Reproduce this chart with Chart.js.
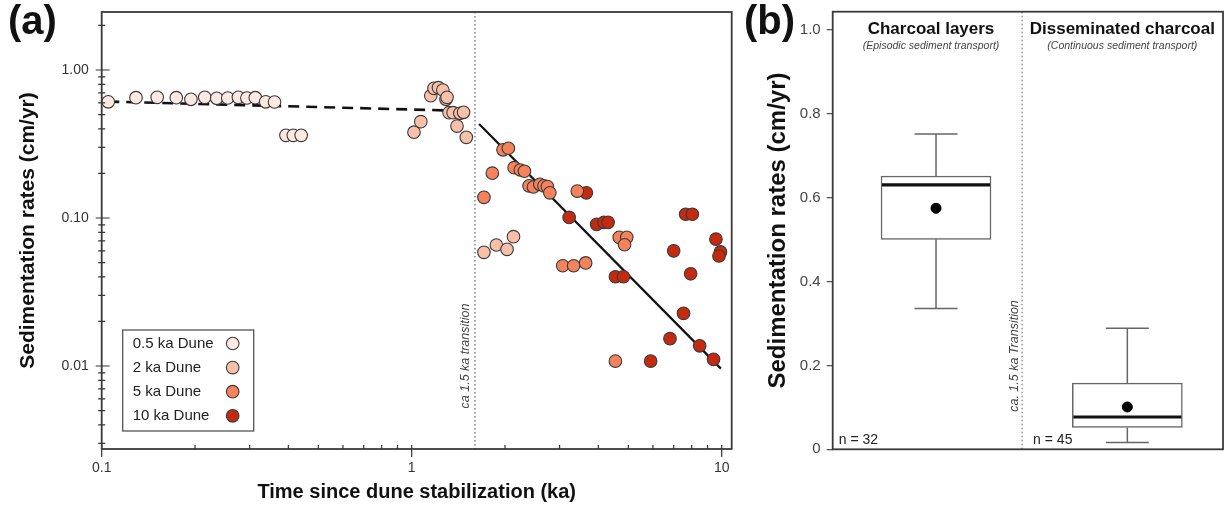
<!DOCTYPE html>
<html>
<head>
<meta charset="utf-8">
<title>Sedimentation rates</title>
<script src="https://cdn.jsdelivr.net/npm/chart.js@4.4.1/dist/chart.umd.min.js"></script>
<style>
  body { margin: 0; background: #fff; }
  #wrap { position: relative; width: 1229px; height: 506px; }
  #chartA { position: absolute; left: 0; top: 0; }
  #chartB { position: absolute; left: 740px; top: 0; }
</style>
</head>
<body>
<div id="wrap">
  <canvas id="chartA" width="740" height="506"></canvas>
  <canvas id="chartB" width="489" height="506"></canvas>
</div>
<script>
// ---------------------------------- data panel (a) ----------------------------------//
const duneLabels = ['0.5 ka Dune', '2 ka Dune', '5 ka Dune', '10 ka Dune'];

const dune05X = [0.105, 0.129, 0.151, 0.174, 0.194, 0.215, 0.235, 0.255, 0.276, 0.294, 0.313, 0.338, 0.361, 0.393, 0.415, 0.44];
const dune05Y = [0.61, 0.65, 0.654, 0.65, 0.634, 0.654, 0.644, 0.647, 0.654, 0.647, 0.65, 0.61, 0.608, 0.362, 0.362, 0.362];

const dune2X = [1.017, 1.07, 1.152, 1.18, 1.22, 1.26, 1.29, 1.30, 1.32, 1.36, 1.43, 1.47, 1.40, 1.50, 1.71, 1.875, 2.03, 2.13];
const dune2Y = [0.38, 0.448, 0.67, 0.752, 0.76, 0.733, 0.634, 0.654, 0.515, 0.515, 0.51, 0.518, 0.418, 0.351, 0.0586, 0.0657, 0.0614, 0.0748];

const dune5X = [1.97, 2.05, 1.82, 1.71, 2.14, 2.24, 2.31, 2.39, 2.47, 2.59, 2.67, 2.74, 2.79, 3.42, 4.67, 4.94, 4.86, 3.07, 3.33, 3.64, 4.54];
const dune5Y = [0.289, 0.296, 0.201, 0.138, 0.219, 0.211, 0.207, 0.165, 0.162, 0.169, 0.165, 0.163, 0.148, 0.152, 0.074, 0.074, 0.066, 0.0476, 0.0476, 0.0497, 0.0108];

const dune10X = [3.66, 3.22, 3.95, 4.17, 4.30, 7.65, 8.04, 9.58, 4.54, 4.82, 7.0, 7.94, 7.53, 6.81, 8.49, 9.41, 5.90, 9.91, 9.8];
const dune10Y = [0.148, 0.101, 0.0906, 0.0935, 0.0935, 0.106, 0.106, 0.072, 0.0401, 0.0401, 0.060, 0.042, 0.0227, 0.0153, 0.0137, 0.0111, 0.0108, 0.059, 0.0554];

// trend lines
const youngFitX = [0.105, 1.45];
const youngFitY = [0.612, 0.53];
const oldFitX = [1.65, 9.94];
const oldFitY = [0.432, 0.0096];

const transitionA = 1.6;

const xMajor = [0.1, 1, 10];
const xTickLabels = ['0.1', '1', '10'];
const yMajor = [0.01, 0.1, 1];
const yTickLabels = ['0.01', '0.10', '1.00'];

// ---------------------------------- data panel (b) ----------------------------------//
const groups = ['Charcoal layers', 'Disseminated charcoal'];
const groupNotes = ['(Episodic sediment transport)', '(Continuous sediment transport)'];
const groupN = ['n = 32', 'n = 45'];
const boxPos = [1, 2];
const whiskerLow = [0.336, 0.016];
const q1 = [0.501, 0.052];
const median = [0.631, 0.077];
const q3 = [0.652, 0.158];
const whiskerHigh = [0.752, 0.289];
const mean = [0.575, 0.101];
const transitionB = 1.45;
const yTicksB = [0, 0.2, 0.4, 0.6, 0.8, 1.0];
const yTickLabelsB = ['0', '0.2', '0.4', '0.6', '0.8', '1.0'];

//---------------------------------------------------------------------------------------//

const FONT = '"Liberation Sans", Arial, Helvetica, sans-serif';
Chart.defaults.font.family = FONT;
Chart.defaults.color = '#333';

function pts(xs, ys) {
    return xs.map((x, i) => ({ x: x, y: ys[i] }));
}

function logTicks(min, max) {
    const ticks = [];
    for (let e = Math.floor(Math.log10(min)); e <= Math.ceil(Math.log10(max)); e++) {
        for (let m = 1; m <= 9; m++) {
            const v = parseFloat((m * Math.pow(10, e)).toPrecision(6));
            if (v >= min && v <= max) ticks.push({ value: v, major: m === 1 });
        }
    }
    return ticks;
}

function dotDataset(label, xs, ys, color) {
    return {
        label: label,
        data: pts(xs, ys),
        backgroundColor: color,
        borderColor: '#3a3a3a',
        borderWidth: 1.1,
        pointRadius: 6.3,
        inLegend: true
    };
}

// no extra room for the half tick labels at the ends of the axes
function fixAxis(size) {
    return (axis) => {
        if (axis.isHorizontal()) axis.height = size; else axis.width = size;
        axis.paddingTop = 0;
        axis.paddingBottom = 0;
        axis.paddingLeft = 0;
        axis.paddingRight = 0;
    };
}

// frame around the plot area
const frame = {
    id: 'frame',
    afterDraw(chart) {
        const ctx = chart.ctx, a = chart.chartArea;
        ctx.save();
        ctx.strokeStyle = '#3a3a3a';
        ctx.lineWidth = 1.8;
        ctx.strokeRect(a.left, a.top, a.right - a.left, a.bottom - a.top);
        ctx.restore();
    }
};

// tick marks of the log axes (minor ones point inside)
const logTickMarks = {
    id: 'logTickMarks',
    afterDraw(chart) {
        const ctx = chart.ctx, a = chart.chartArea;
        const xs = chart.scales.x, ys = chart.scales.y;
        ctx.save();
        ctx.strokeStyle = '#333';
        ctx.lineWidth = 1.2;
        ctx.beginPath();
        xs.ticks.forEach(t => {
            const px = xs.getPixelForValue(t.value);
            ctx.moveTo(px, a.bottom - 4);
            ctx.lineTo(px, a.bottom + (t.major ? 8 : 0));
        });
        ys.ticks.forEach(t => {
            const py = ys.getPixelForValue(t.value);
            ctx.moveTo(a.left - (t.major ? 6 : 3.5), py);
            ctx.lineTo(a.left + (t.major ? 8 : 3.5), py);
        });
        ctx.stroke();
        ctx.restore();
    }
};

// dotted transition line, legend box and panel letter
const panelA = {
    id: 'panelA',
    beforeDatasetsDraw(chart) {
        const ctx = chart.ctx, a = chart.chartArea;
        const px = chart.scales.x.getPixelForValue(transitionA);
        ctx.save();
        ctx.strokeStyle = '#666';
        ctx.lineWidth = 1.2;
        ctx.setLineDash([1.5, 2.5]);
        ctx.beginPath();
        ctx.moveTo(px, a.top);
        ctx.lineTo(px, a.bottom);
        ctx.stroke();
        ctx.setLineDash([]);
        ctx.translate(px - 9, 356);
        ctx.rotate(-Math.PI / 2);
        ctx.font = 'italic 12.5px ' + FONT;
        ctx.fillStyle = '#444';
        ctx.textAlign = 'center';
        ctx.textBaseline = 'middle';
        ctx.fillText('ca 1.5 ka transition', 0, 0);
        ctx.restore();
    },
    afterDraw(chart) {
        const ctx = chart.ctx, a = chart.chartArea;
        const left = a.left + 21, top = a.bottom - 119, w = 131, h = 101;
        ctx.save();
        ctx.fillStyle = '#fff';
        ctx.fillRect(left, top, w, h);
        ctx.strokeStyle = '#555';
        ctx.lineWidth = 1.3;
        ctx.strokeRect(left, top, w, h);
        ctx.font = '15px ' + FONT;
        ctx.textBaseline = 'middle';
        chart.data.datasets.filter(d => d.inLegend).forEach((d, i) => {
            const y = top + 13.5 + i * 24.1;
            ctx.fillStyle = '#222';
            ctx.fillText(d.label, left + 10, y);
            ctx.beginPath();
            ctx.arc(left + 110, y, 6.3, 0, Math.PI * 2);
            ctx.fillStyle = d.backgroundColor;
            ctx.fill();
            ctx.strokeStyle = '#3a3a3a';
            ctx.lineWidth = 1.1;
            ctx.stroke();
        });
        ctx.fillStyle = '#111';
        ctx.font = 'bold 40px ' + FONT;
        ctx.textAlign = 'left';
        ctx.fillText('(a)', 8, 23);
        ctx.restore();
    }
};

const chartA = new Chart(document.getElementById('chartA'), {
    type: 'scatter',
    data: {
        datasets: [
            dotDataset(duneLabels[0], dune05X, dune05Y, '#fde9e1'),
            dotDataset(duneLabels[1], dune2X, dune2Y, '#f8c0a9'),
            dotDataset(duneLabels[2], dune5X, dune5Y, '#f4835b'),
            dotDataset(duneLabels[3], dune10X, dune10Y, '#c32a10'),
            {
                label: 'fit < 1.5 ka',
                data: pts(youngFitX, youngFitY),
                showLine: true,
                borderColor: '#111',
                borderWidth: 2.6,
                borderDash: [11, 7],
                pointRadius: 0
            },
            {
                label: 'fit > 1.5 ka',
                data: pts(oldFitX, oldFitY),
                showLine: true,
                borderColor: '#111',
                borderWidth: 2.2,
                pointRadius: 0
            }
        ]
    },
    options: {
        responsive: false,
        animation: false,
        layout: { padding: { top: 12, right: 8.3, left: 0, bottom: 0 } },
        plugins: { legend: { display: false }, tooltip: { enabled: false } },
        scales: {
            x: {
                type: 'logarithmic',
                min: 0.1,
                max: 10.77,
                afterBuildTicks: (axis) => { axis.ticks = logTicks(axis.min, axis.max); },
                afterFit: fixAxis(57),
                grid: { display: false, drawTicks: false },
                border: { display: false },
                ticks: {
                    autoSkip: false,
                    maxRotation: 0,
                    padding: 11,
                    color: '#333',
                    font: { size: 14 },
                    callback: (value) => {
                        const k = xMajor.indexOf(value);
                        return k >= 0 ? xTickLabels[k] : '';
                    }
                },
                title: {
                    display: true,
                    text: 'Time since dune stabilization (ka)',
                    color: '#111',
                    font: { size: 20, weight: 'bold' },
                    padding: { top: 0, bottom: 2 }
                }
            },
            y: {
                type: 'logarithmic',
                min: 0.00275,
                max: 2.466,
                afterBuildTicks: (axis) => { axis.ticks = logTicks(axis.min, axis.max); },
                afterFit: fixAxis(101.7),
                grid: { display: false, drawTicks: false },
                border: { display: false },
                ticks: {
                    autoSkip: false,
                    padding: 13,
                    color: '#333',
                    font: { size: 14 },
                    callback: (value) => {
                        const k = yMajor.indexOf(value);
                        return k >= 0 ? yTickLabels[k] : '';
                    }
                },
                title: {
                    display: true,
                    text: 'Sedimentation rates (cm/yr)',
                    color: '#111',
                    font: { size: 21, weight: 'bold' },
                    padding: { top: 16, bottom: 0 }
                }
            }
        }
    },
    plugins: [panelA, logTickMarks, frame]
});

// ---------------------------------- panel (b) : boxplots ----------------------------------//
const panelB = {
    id: 'panelB',
    beforeDatasetsDraw(chart) {
        const ctx = chart.ctx, a = chart.chartArea;
        const xs = chart.scales.x;
        const px = xs.getPixelForValue(transitionB);
        ctx.save();
        ctx.strokeStyle = '#777';
        ctx.lineWidth = 1.2;
        ctx.setLineDash([1.5, 2.5]);
        ctx.beginPath();
        ctx.moveTo(px, a.top);
        ctx.lineTo(px, a.bottom);
        ctx.stroke();
        ctx.setLineDash([]);

        ctx.textAlign = 'center';
        ctx.textBaseline = 'middle';
        boxPos.forEach((p, i) => {
            const cx = xs.getPixelForValue(p);
            ctx.fillStyle = '#111';
            ctx.font = 'bold 17px ' + FONT;
            ctx.fillText(groups[i], cx - 5, a.top + 18);
            ctx.fillStyle = '#444';
            ctx.font = 'italic 10.5px ' + FONT;
            ctx.fillText(groupNotes[i], cx - 5, a.top + 34);
        });

        ctx.textAlign = 'left';
        ctx.fillStyle = '#222';
        ctx.font = '14px ' + FONT;
        ctx.fillText(groupN[0], a.left + 6, a.bottom - 9);
        ctx.fillText(groupN[1], px + 11, a.bottom - 9);

        ctx.translate(px - 8, 356);
        ctx.rotate(-Math.PI / 2);
        ctx.textAlign = 'center';
        ctx.fillStyle = '#444';
        ctx.font = 'italic 12.5px ' + FONT;
        ctx.fillText('ca. 1.5 ka Transition', 0, 0);
        ctx.restore();
    },
    afterDatasetsDraw(chart) {
        const ctx = chart.ctx;
        const xs = chart.scales.x, ys = chart.scales.y;
        ctx.save();
        boxPos.forEach((p, i) => {
            const cx = xs.getPixelForValue(p);
            const yHi = ys.getPixelForValue(whiskerHigh[i]);
            const yLo = ys.getPixelForValue(whiskerLow[i]);
            ctx.strokeStyle = '#666';
            ctx.lineWidth = 1.5;
            ctx.beginPath();
            ctx.moveTo(cx, ys.getPixelForValue(q3[i]));
            ctx.lineTo(cx, yHi);
            ctx.moveTo(cx, ys.getPixelForValue(q1[i]));
            ctx.lineTo(cx, yLo);
            ctx.moveTo(cx - 21.5, yHi);
            ctx.lineTo(cx + 21.5, yHi);
            ctx.moveTo(cx - 21.5, yLo);
            ctx.lineTo(cx + 21.5, yLo);
            ctx.stroke();
            const ym = ys.getPixelForValue(median[i]);
            ctx.strokeStyle = '#111';
            ctx.lineWidth = 3.2;
            ctx.beginPath();
            ctx.moveTo(cx - 54, ym);
            ctx.lineTo(cx + 54, ym);
            ctx.stroke();
        });
        ctx.fillStyle = '#111';
        ctx.font = 'bold 40px ' + FONT;
        ctx.textBaseline = 'middle';
        ctx.fillText('(b)', 4, 23);
        ctx.restore();
    }
};

const chartB = new Chart(document.getElementById('chartB'), {
    type: 'bar',
    data: {
        datasets: [
            {
                type: 'scatter',
                label: 'mean',
                data: pts(boxPos, mean),
                backgroundColor: '#000',
                borderColor: '#000',
                pointRadius: 5
            },
            {
                label: 'interquartile range',
                data: boxPos.map((p, i) => ({ x: p, y: [q1[i], q3[i]] })),
                backgroundColor: '#fff',
                borderColor: '#666',
                borderWidth: 1.5,
                borderSkipped: false,
                barThickness: 110
            }
        ]
    },
    options: {
        responsive: false,
        animation: false,
        layout: { padding: { top: 11.7, right: 4, left: 0, bottom: 56.7 } },
        plugins: { legend: { display: false }, tooltip: { enabled: false } },
        scales: {
            x: {
                type: 'linear',
                min: 0.46,
                max: 2.5,
                offset: false,
                display: false
            },
            y: {
                min: 0,
                max: 1.044,
                afterBuildTicks: (axis) => { axis.ticks = yTicksB.map(v => ({ value: v })); },
                afterFit: fixAxis(92.7),
                grid: { drawOnChartArea: false, drawTicks: true, tickLength: 6, color: '#555', lineWidth: 1.3 },
                border: { display: false },
                ticks: {
                    padding: 6,
                    color: '#444',
                    font: { size: 15 },
                    callback: (value, index) => yTickLabelsB[index]
                },
                title: {
                    display: true,
                    text: 'Sedimentation rates (cm/yr)',
                    color: '#111',
                    font: { size: 24, weight: 'bold' },
                    padding: { top: 24, bottom: 0 }
                }
            }
        }
    },
    plugins: [panelB, frame]
});
</script>
</body>
</html>
